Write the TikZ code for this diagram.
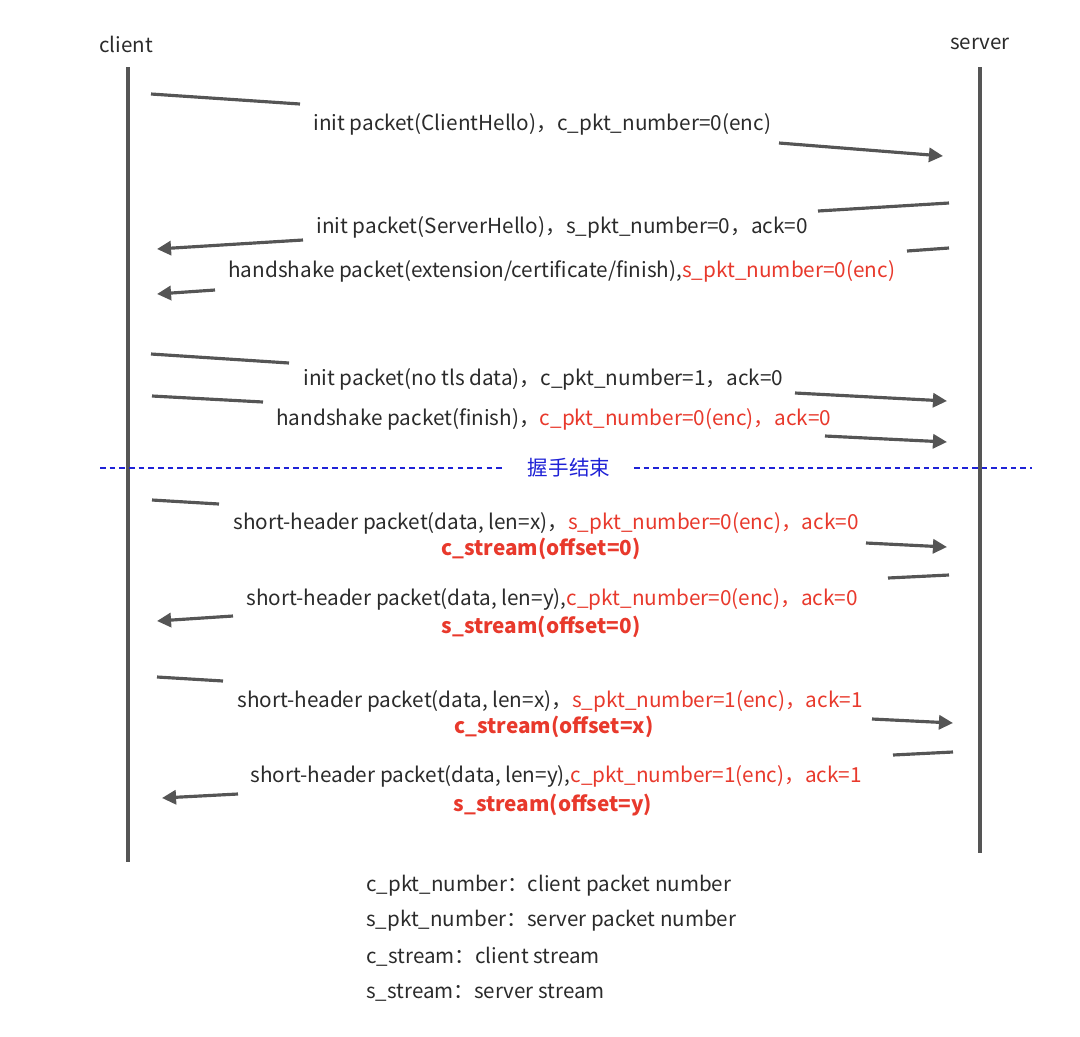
\documentclass[tikz,border=0pt]{standalone}
\usepackage{fontspec}
\setmainfont{Noto Sans CJK SC}
\usetikzlibrary{arrows.meta}
\definecolor{lineGray}{HTML}{555555}
\definecolor{textGray}{HTML}{2B2B2B}
\definecolor{accentRed}{HTML}{E8392C}
\definecolor{accentBlue}{HTML}{1F22D6}
\begin{document}
\begin{tikzpicture}[x=0.02cm,y=-0.02cm]
      \useasboundingbox (0,0) rectangle (1080,1036);

      \tikzstyle{lifeline} = [line width=1.9pt, draw=lineGray]
      \tikzstyle{tail} = [line width=1.8pt, draw=lineGray]
      \tikzstyle{arrow} = [line width=1.8pt, draw=lineGray, -{Triangle[length=8pt,width=8pt]}]
      \tikzstyle{msglabel} = [
        draw=none,
        anchor=west,
        inner sep=0pt,
        text=textGray,
        font=\fontsize{11.8}{13}\selectfont
      ]
      \tikzstyle{streamlabel} = [
        draw=none,
        inner sep=0pt,
        text=accentRed,
        font=\fontsize{11.8}{13}\selectfont\bfseries
      ]
      \tikzstyle{legend} = [
        draw=none,
        anchor=west,
        inner sep=0pt,
        text=textGray,
        font=\fontsize{11.7}{13}\selectfont
      ]

      % endpoints
      \node[text=textGray,font=\fontsize{11.7}{13}\selectfont] (clientLabel) at (126,44) {client};
      \node[text=textGray,font=\fontsize{11.7}{13}\selectfont] (serverLabel) at (980,44) {server};
      \coordinate (clientTop) at (128,67);
      \coordinate (clientBottom) at (128,862);
      \coordinate (serverTop) at (980,67);
      \coordinate (serverBottom) at (980,853);
      \draw[lifeline] (clientTop) -- (clientBottom);
      \draw[lifeline] (serverTop) -- (serverBottom);

      % msg 1
      \coordinate (msg1TailStart) at (151,94);
      \coordinate (msg1TailEnd) at (300,104);
      \coordinate (msg1HeadStart) at (779,143);
      \coordinate (msg1HeadEnd) at (943,156);
      \node[msglabel] (msg1Label) at (313,124) {init packet(ClientHello)，c\_pkt\_number=0(enc)};
      \draw[tail] (msg1TailStart) -- (msg1TailEnd);
      \draw[arrow] (msg1HeadStart) -- (msg1HeadEnd);

      % msg 2
      \coordinate (msg2TailStart) at (949,203);
      \coordinate (msg2TailEnd) at (818,211);
      \coordinate (msg2HeadStart) at (303,240);
      \coordinate (msg2HeadEnd) at (157,249);
      \node[msglabel] (msg2Label) at (316,227) {init packet(ServerHello)，s\_pkt\_number=0，ack=0};
      \draw[tail] (msg2TailStart) -- (msg2TailEnd);
      \draw[arrow] (msg2HeadStart) -- (msg2HeadEnd);

      % msg 3
      \coordinate (msg3TailStart) at (949,248);
      \coordinate (msg3TailEnd) at (907,251);
      \coordinate (msg3HeadStart) at (215,290);
      \coordinate (msg3HeadEnd) at (157,294);
      \node[msglabel] (msg3Label) at (228,271) {handshake packet(extension/certificate/finish),\textcolor{accentRed}{s\_pkt\_number=0(enc)}};
      \draw[tail] (msg3TailStart) -- (msg3TailEnd);
      \draw[arrow] (msg3HeadStart) -- (msg3HeadEnd);

      % msg 4
      \coordinate (msg4TailStart) at (151,354);
      \coordinate (msg4TailEnd) at (289,363);
      \coordinate (msg4HeadStart) at (795,393);
      \coordinate (msg4HeadEnd) at (947,401);
      \node[msglabel] (msg4Label) at (303,379) {init packet(no tls data)，c\_pkt\_number=1，ack=0};
      \draw[tail] (msg4TailStart) -- (msg4TailEnd);
      \draw[arrow] (msg4HeadStart) -- (msg4HeadEnd);

      % msg 5
      \coordinate (msg5TailStart) at (152,396);
      \coordinate (msg5TailEnd) at (263,402);
      \coordinate (msg5HeadStart) at (825,436);
      \coordinate (msg5HeadEnd) at (947,442);
      \node[msglabel] (msg5Label) at (276,419) {handshake packet(finish)，\textcolor{accentRed}{c\_pkt\_number=0(enc)，ack=0}};
      \draw[tail] (msg5TailStart) -- (msg5TailEnd);
      \draw[arrow] (msg5HeadStart) -- (msg5HeadEnd);

      % end of handshake
      \node[text=accentBlue,font=\fontsize{11.7}{13}\selectfont] (doneLabel) at (569,468) {握手结束};
      \coordinate (doneLeft) at (100,468);
      \coordinate (doneRight) at (1032,468);
      \draw[accentBlue, line width=1.6pt, dash pattern=on 3.2pt off 2.3pt] (doneLeft) -- ([xshift=-10pt] doneLabel.west);
      \draw[accentBlue, line width=1.6pt, dash pattern=on 3.2pt off 2.3pt] ([xshift=10pt] doneLabel.east) -- (doneRight);

      % msg 6
      \coordinate (msg6TailStart) at (152,500);
      \coordinate (msg6TailEnd) at (219,504);
      \coordinate (msg6HeadStart) at (866,543);
      \coordinate (msg6HeadEnd) at (947,547);
      \node[msglabel] (msg6Label) at (233,523) {short-header packet(data, len=x)，\textcolor{accentRed}{s\_pkt\_number=0(enc)，ack=0}};
      \node[streamlabel] (msg6Stream) at (541,549) {c\_stream(offset=0)};
      \draw[tail] (msg6TailStart) -- (msg6TailEnd);
      \draw[arrow] (msg6HeadStart) -- (msg6HeadEnd);

      % msg 7
      \coordinate (msg7TailStart) at (949,575);
      \coordinate (msg7TailEnd) at (888,578);
      \coordinate (msg7HeadStart) at (233,616);
      \coordinate (msg7HeadEnd) at (157,621);
      \node[msglabel] (msg7Label) at (246,599) {short-header packet(data, len=y),\textcolor{accentRed}{c\_pkt\_number=0(enc)，ack=0}};
      \node[streamlabel] (msg7Stream) at (541,627) {s\_stream(offset=0)};
      \draw[tail] (msg7TailStart) -- (msg7TailEnd);
      \draw[arrow] (msg7HeadStart) -- (msg7HeadEnd);

      % msg 8
      \coordinate (msg8TailStart) at (157,677);
      \coordinate (msg8TailEnd) at (223,681);
      \coordinate (msg8HeadStart) at (872,719);
      \coordinate (msg8HeadEnd) at (953,723);
      \node[msglabel] (msg8Label) at (237,701) {short-header packet(data, len=x)，\textcolor{accentRed}{s\_pkt\_number=1(enc)，ack=1}};
      \node[streamlabel] (msg8Stream) at (554,727) {c\_stream(offset=x)};
      \draw[tail] (msg8TailStart) -- (msg8TailEnd);
      \draw[arrow] (msg8HeadStart) -- (msg8HeadEnd);

      % msg 9
      \coordinate (msg9TailStart) at (953,752);
      \coordinate (msg9TailEnd) at (893,755);
      \coordinate (msg9HeadStart) at (238,794);
      \coordinate (msg9HeadEnd) at (162,798);
      \node[msglabel] (msg9Label) at (250,776) {short-header packet(data, len=y),\textcolor{accentRed}{c\_pkt\_number=1(enc)，ack=1}};
      \node[streamlabel] (msg9Stream) at (553,805) {s\_stream(offset=y)};
      \draw[tail] (msg9TailStart) -- (msg9TailEnd);
      \draw[arrow] (msg9HeadStart) -- (msg9HeadEnd);

      % legend
      \node[legend] (legendCpkt) at (366,886) {c\_pkt\_number：client packet number};
      \node[legend] (legendSpkt) at (366,921) {s\_pkt\_number：server packet number};
      \node[legend] (legendCstream) at (366,957) {c\_stream：client stream};
      \node[legend] (legendSstream) at (366,993) {s\_stream：server stream};
    \end{tikzpicture}
\end{document}
